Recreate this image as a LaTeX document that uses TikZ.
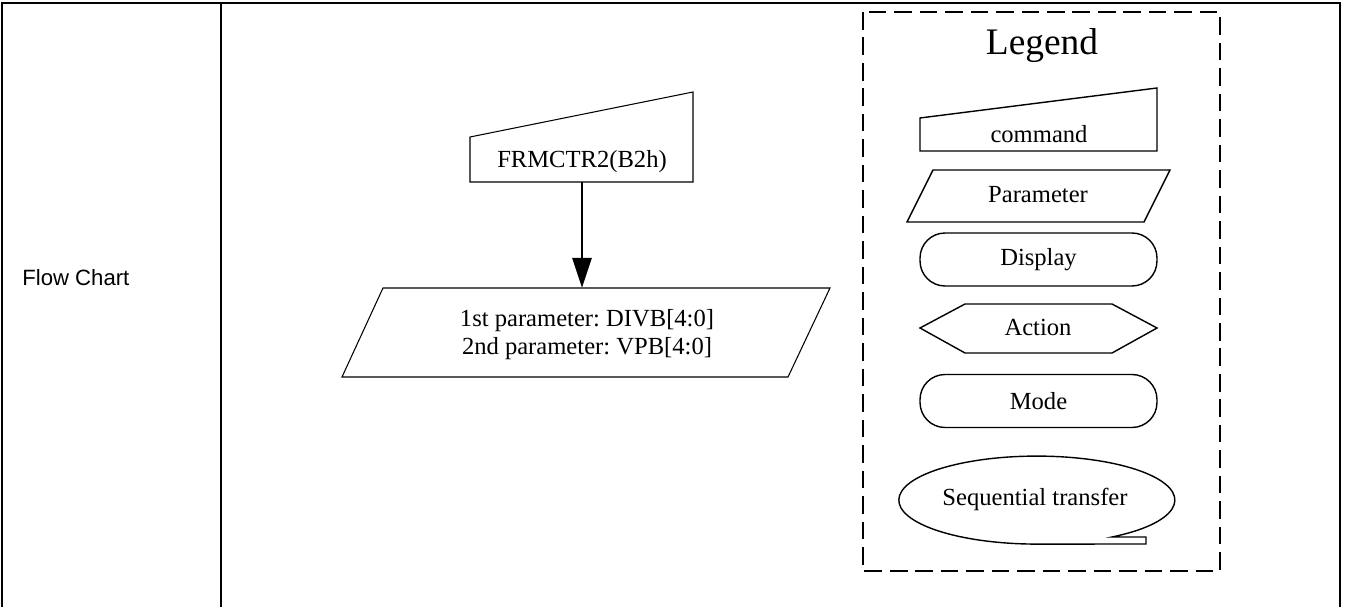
\documentclass[tikz,border=0pt]{standalone}
\usepackage{fontspec}
\setmainfont{Liberation Serif}
\newfontfamily\labelfont{Liberation Sans}
\usetikzlibrary{arrows.meta, positioning, calc}
\frenchspacing

\begin{document}
\begin{tikzpicture}[
      x=0.02cm, y=-0.02cm,
      grid/.style={line width=1.1pt},
      outline/.style={draw, line width=0.6pt},
      legshape/.style={draw, line width=0.8pt},
      legframe/.style={draw, line width=1.6pt, dash pattern=on 10pt off 4.5pt},
      txt/.style={font=\fontsize{14}{15.9}\selectfont, inner sep=0pt},
      pill/.style={draw, line width=0.8pt, rounded corners=0.5cm, minimum width=4.74cm, minimum height=1.06cm, font=\fontsize{14}{15.9}\selectfont},
      arrow/.style={-{Triangle[length=17pt, width=11pt]}, line width=1.1pt}
    ]
    \useasboundingbox (0,0) rectangle (1345,607);

    % table
    \draw[grid] (2,607) -- (2,3) -- (1340,3) -- (1340,607);
    \draw[grid] (221,3) -- (221,607);
    \node[anchor=base west, inner sep=0pt, font=\labelfont\fontsize{12.6}{15}\selectfont] (title) at (22,286) {Flow Chart};

    % flow
    \draw[outline] (470,137) -- (693,92) -- (693,182) -- (470,182) -- cycle;
    \node[txt, minimum height=0.8cm] (cmd) at (582,162) {FRMCTR2(B2h)};
    \draw[outline] (383,288) -- (830,288) -- (788,377) -- (342,377) -- cycle;
    \node[txt, align=center, minimum height=1.88cm] (par) at (587,335) {1st parameter: DIVB[4:0]\\2nd parameter: VPB[4:0]};
    \draw[arrow] (cmd) -- (cmd |- par.north);

    % legend
    \draw[legframe] (863,12) rectangle (1220,571);
    \node[anchor=base, inner sep=0pt, font=\fontsize{21.3}{25}\selectfont] (legend) at (1042,55) {Legend};

    \draw[legshape] (920,118) -- (1157,88) -- (1157,151) -- (920,151) -- cycle;
    \node[txt, anchor=base] (lcmd) at (1039,143) {command};

    \draw[legshape] (933,170) -- (1170,170) -- (1144,222) -- (907,222) -- cycle;
    \node[txt, anchor=base] (lpar) at (1038,203) {Parameter};

    \node[pill] (ldisp) at (1038.5,259.5) {Display};

    \draw[legshape] (920,328) -- (965,304) -- (1112,304) -- (1157,328) -- (1112,353) -- (965,353) -- cycle;
    \node[txt, anchor=base] (lact) at (1038,336) {Action};

    \node[pill] (lmode) at (1038.5,401) {Mode};

    \draw[legshape] (1112,537) arc[start angle=57, end angle=-270, x radius=138, y radius=44] -- (1146,544) -- (1146,537) -- cycle;
    \node[txt, anchor=base] (lseq) at (1035,505) {Sequential transfer};
  \end{tikzpicture}
\end{document}
